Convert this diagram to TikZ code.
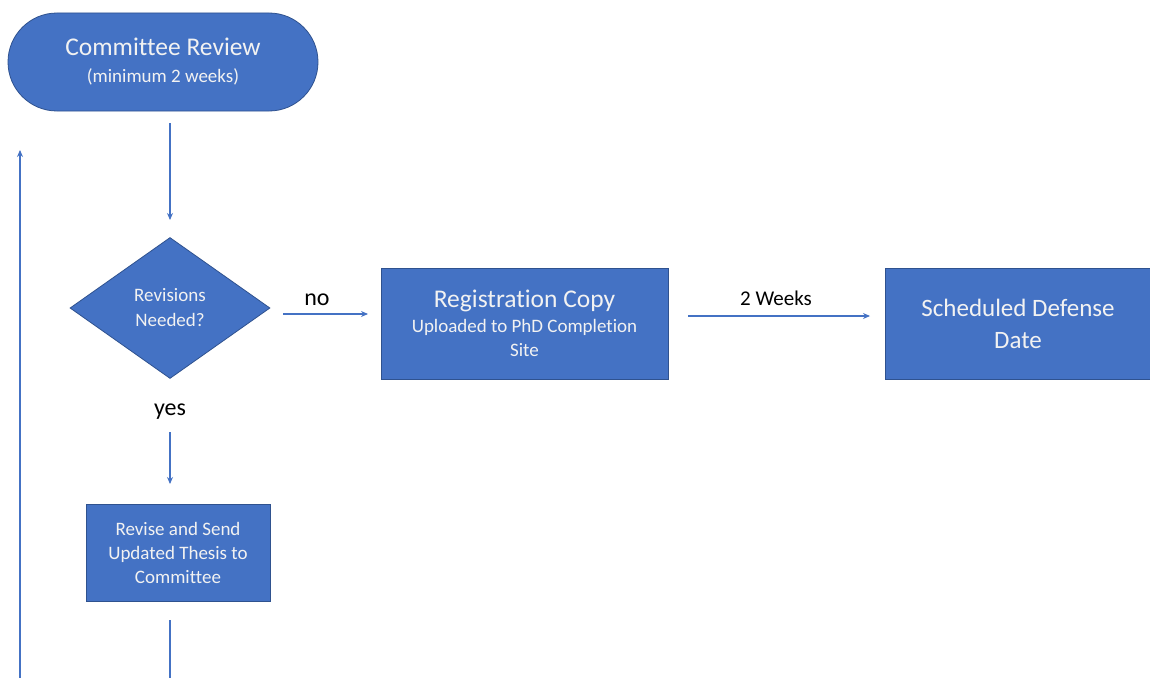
\documentclass[tikz,border=0pt]{standalone}
\usepackage{fontspec}
\setmainfont[Ligatures={NoCommon}]{Carlito}
\usetikzlibrary{shapes.geometric,shapes.misc,arrows.meta}
\definecolor{boxblue}{HTML}{4472C4}
\definecolor{edgeblue}{HTML}{2F528F}
\definecolor{txt}{HTML}{F2F2F2}
\tikzset{
  box/.style={draw=edgeblue, line width=0.8pt, fill=boxblue, text=txt, align=center, inner sep=0pt},
  conn/.style={draw=boxblue, line width=1.1pt, -{Stealth[length=7pt,width=6pt]}},
  lbl/.style={text=black, inner sep=0pt},
  small/.style={font=\fontsize{19}{24}\selectfont},
  large/.style={font=\fontsize{25}{30}\selectfont},
}
\newcommand{\bigtxt}{\fontsize{25.5}{30}\selectfont}
\begin{document}
\begin{tikzpicture}[x=1pt,y=-1pt]
\useasboundingbox (0,0) rectangle (1150,677);
\clip (0,0) rectangle (1150,677);
% Committee review
\node[box, small, rounded rectangle, minimum width=310pt, minimum height=98pt] (cr) at (163,62)
  {\bigtxt Committee Review\\[3pt] (minimum 2 weeks)};
% decision
\node[box, small, diamond, minimum width=200pt, minimum height=141pt, aspect=1.42] (dec) at (170,308)
  {Revisions\\[1pt] Needed?};
% registration
\node[box, small, minimum width=287pt, minimum height=111pt] (reg) at (524.5,323.5)
  {\bigtxt Registration Copy\\[1pt] Uploaded to PhD Completion\\ Site};
% defense
\node[box, large, minimum width=266pt, minimum height=111pt] (def) at (1018,323.5)
  {Scheduled Defense\\[2pt] Date};
% revise
\node[box, small, minimum width=184pt, minimum height=97pt] (rev) at (178,552.5)
  {Revise and Send\\ Updated Thesis to\\ Committee};
% labels
\node[lbl, font=\fontsize{24}{28}\selectfont] (no) at (317,300) {no};
\node[lbl, font=\fontsize{24}{28}\selectfont] (yes) at (170,412) {yes};
\node[lbl, font=\fontsize{21}{24}\selectfont] (wk) at (776,298) {2 Weeks};
% helper coordinates
\coordinate (crb) at (170,123);
\coordinate (decin) at (170,220);
\coordinate (noa) at (283,314);
\coordinate (nob) at (368,314);
\coordinate (wka) at (688,316);
\coordinate (wkb) at (870,316);
\coordinate (yesa) at (170,432);
\coordinate (yesb) at (170,484);
\coordinate (revout) at (170,620);
\coordinate (bot1) at (170,700);
\coordinate (bot2) at (20,700);
\coordinate (loopend) at (20,150);
% connectors
\draw[conn] (crb) -- (decin);
\draw[conn] (noa) -- (nob);
\draw[conn] (wka) -- (wkb);
\draw[conn] (yesa) -- (yesb);
\draw[conn] (revout) -- (bot1) -- (bot2) -- (loopend);
\end{tikzpicture}
\end{document}
